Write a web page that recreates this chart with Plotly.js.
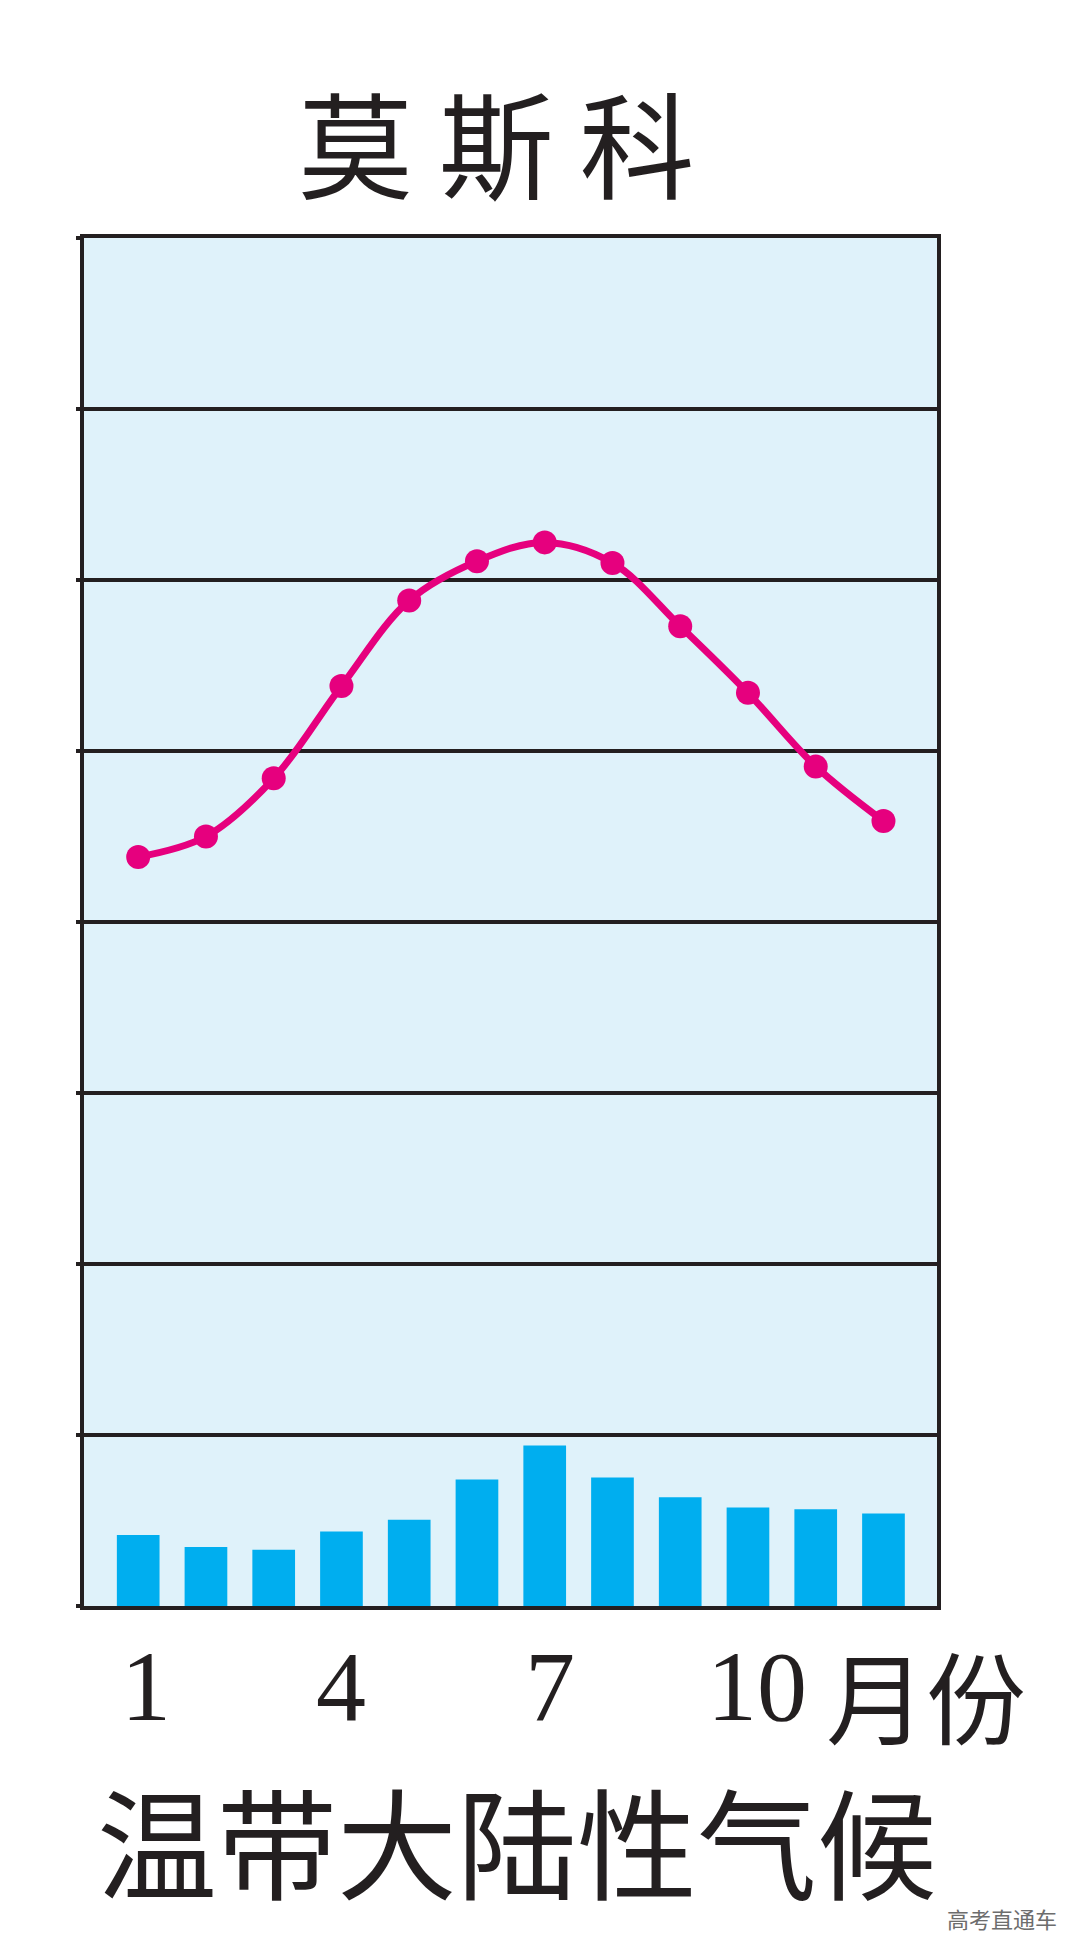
<!DOCTYPE html>
<html><head><meta charset="utf-8">
<script src="https://cdn.plot.ly/plotly-3.0.1.min.js"></script>
<style>html,body{margin:0;padding:0;background:#fff;}</style>
</head><body>
<div id="chart" style="width:1080px;height:1958px;"></div>
<script>
// ---- data ----
const months = [1,2,3,4,5,6,7,8,9,10,11,12];
const temperature = [-6.2, -5.0, -1.6, 3.8, 8.8, 11.1, 12.2, 11.0, 7.3, 3.4, -0.9, -4.1];   // °C
const precipitation = [41.5, 34.5, 32.9, 43.6, 50.4, 74.0, 93.8, 75.2, 63.6, 57.6, 56.6, 54.1]; // mm
const tickMonths = [1, 4, 7, 10];
const tickLabels = ['1', '4', '7', '10'];
const unitLabel = '月份';
const cityTitle = '莫 斯 科';
const climateLabel = '温带大陆性气候';
const sourceLabel = '高考直通车';

const INK = '#231f20';
const CJK = '"Noto Sans CJK SC", "Noto Sans CJK JP", sans-serif';
const labelShift = [8, 0, 5, 9];

const traces = [
  {
    type: 'bar', x: months, y: precipitation, yaxis: 'y2',
    width: 0.63, marker: {color: '#00aeef', line: {width: 0}},
    hoverinfo: 'skip'
  },
  {
    type: 'scatter', mode: 'lines+markers', x: months, y: temperature,
    line: {color: '#e6007e', width: 7, shape: 'spline', smoothing: 1},
    marker: {color: '#e6007e', size: 24},
    hoverinfo: 'skip'
  }
];

const annotations = [];
tickMonths.forEach((m, i) => annotations.push({
  xref: 'x', yref: 'paper', x: m, y: -0.0585, xanchor: 'center', yanchor: 'middle',
  xshift: labelShift[i],
  text: tickLabels[i], showarrow: false,
  font: {family: '"Liberation Serif", "DejaVu Serif", serif', size: 100, color: INK}
}));
annotations.push({
  xref: 'paper', yref: 'paper', x: 0.868, y: -0.064, xanchor: 'left', yanchor: 'middle',
  text: unitLabel, showarrow: false, font: {family: CJK, size: 100, color: INK}
});
annotations.push({
  xref: 'paper', yref: 'paper', x: 0.4836, y: 1.0717, xanchor: 'center', yanchor: 'middle',
  text: cityTitle, showarrow: false, font: {family: CJK, size: 115, color: INK}
});
annotations.push({
  xref: 'paper', yref: 'paper', x: 0.5076, y: -0.1703, xanchor: 'center', yanchor: 'middle',
  text: climateLabel, showarrow: false, font: {family: CJK, size: 120, color: INK}
});
annotations.push({
  xref: 'paper', yref: 'paper', x: 1.0762, y: -0.2281, xanchor: 'center', yanchor: 'middle',
  text: sourceLabel, showarrow: false, font: {family: CJK, size: 22, color: '#6d6d6d'}
});

const layout = {
  width: 1080, height: 1958,
  margin: {l: 84, r: 143, t: 238, b: 352, pad: 0},
  paper_bgcolor: '#ffffff',
  plot_bgcolor: '#dff2fa',
  showlegend: false,
  xaxis: {
    range: [0.2, 12.79], showgrid: false, zeroline: false,
    showticklabels: false, ticks: '',
    showline: true, mirror: true, linecolor: INK, linewidth: 4
  },
  yaxis: {
    range: [-50, 30], dtick: 10, tick0: 0,
    showgrid: true, gridcolor: INK, gridwidth: 3.5, zeroline: false,
    showticklabels: false, ticks: 'outside', ticklen: 4, tickwidth: 3.5, tickcolor: INK,
    showline: true, mirror: true, linecolor: INK, linewidth: 4
  },
  yaxis2: {
    range: [0, 800], overlaying: 'y', side: 'right',
    showgrid: false, zeroline: false, showticklabels: false, ticks: '', showline: false
  },
  annotations: annotations
};

Plotly.newPlot('chart', traces, layout, {staticPlot: true, displayModeBar: false});
</script>
</body></html>
